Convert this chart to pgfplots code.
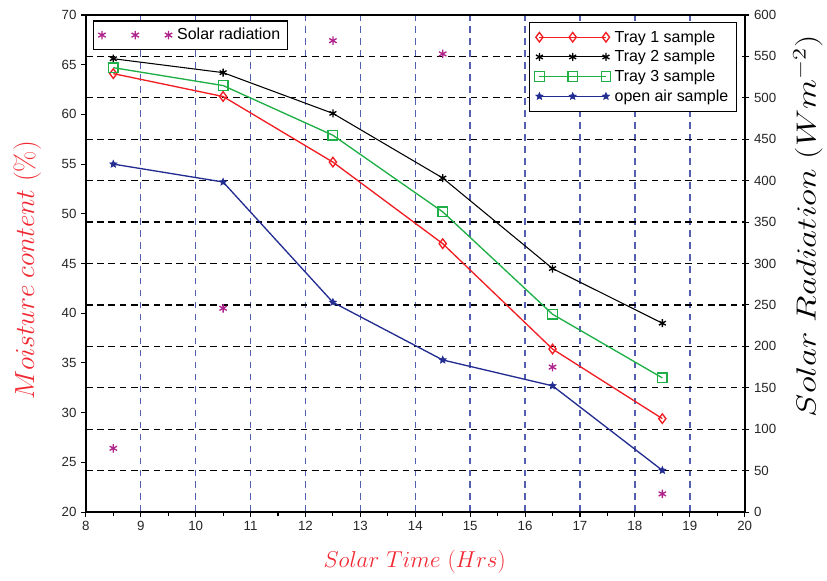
\documentclass[border=0pt]{standalone}
\usepackage[no-math]{fontspec}
\setmainfont{Liberation Sans}
\usepackage{pgfplots}
\pgfplotsset{compat=1.18}
\usetikzlibrary{plotmarks}

\definecolor{tred}{RGB}{240,30,35}
\definecolor{tgreen}{RGB}{30,175,70}
\definecolor{tnavy}{RGB}{35,45,145}
\definecolor{tmag}{RGB}{175,35,140}
\definecolor{gridblue}{RGB}{85,95,175}
\definecolor{lblred}{RGB}{240,40,50}

\pgfdeclareplotmark{fstar}{%
  \pgfpathmoveto{\pgfpointpolar{90}{\pgfplotmarksize}}%
  \pgfpathlineto{\pgfpointpolar{126}{0.45\pgfplotmarksize}}%
  \pgfpathlineto{\pgfpointpolar{162}{\pgfplotmarksize}}%
  \pgfpathlineto{\pgfpointpolar{198}{0.45\pgfplotmarksize}}%
  \pgfpathlineto{\pgfpointpolar{234}{\pgfplotmarksize}}%
  \pgfpathlineto{\pgfpointpolar{270}{0.45\pgfplotmarksize}}%
  \pgfpathlineto{\pgfpointpolar{306}{\pgfplotmarksize}}%
  \pgfpathlineto{\pgfpointpolar{342}{0.45\pgfplotmarksize}}%
  \pgfpathlineto{\pgfpointpolar{18}{\pgfplotmarksize}}%
  \pgfpathlineto{\pgfpointpolar{54}{0.45\pgfplotmarksize}}%
  \pgfpathclose\pgfusepathqfillstroke}

\begin{document}
\begin{tikzpicture}
% Right axis: grids, solar radiation
\begin{axis}[
  scale only axis, width=495pt, height=373.5pt,
  xmin=8, xmax=20, ymin=0, ymax=600,
  xtick={9,...,19}, xticklabels={}, major x tick style={draw=none},
  ytick={0,50,...,600}, ytick pos=right, tick align=outside,
  major tick length=3.5pt,
  /pgf/number format/assume math mode=true,
  yticklabel style={font=\fontsize{10}{12}\selectfont, text=black!85},
  xmajorgrids, ymajorgrids,
  x grid style={dash pattern=on 5pt off 4pt, color=gridblue, line width=1.1pt},
  y grid style={dash pattern=on 5pt off 3.5pt, color=black, line width=0.95pt},
  axis line style={line width=1.5pt},
  tick style={line width=0.8pt, black},
  ylabel={$Solar\ Radiation\ (Wm^{-2})$},
  ylabel style={at={(axis description cs:1.096,0.575)}, anchor=center, font=\fontsize{21}{23}\selectfont, xscale=1.27},
  legend style={at={(axis description cs:0.011,0.989)}, anchor=north west, draw=black, line width=0.8pt, fill=white,
    font=\fontsize{12}{14}\selectfont, inner sep=3.5pt},
  legend cell align=left,
]
\addplot[only marks, color=tmag, mark=asterisk, mark size=3.2pt, line width=1pt,
  legend image code/.code={\draw[only marks] plot coordinates {(0pt,0pt)(25pt,0pt)(50pt,0pt)}; \path (54pt,0pt);}]
  coordinates {(8.5,77) (10.5,246) (12.5,569) (14.5,553) (16.5,175) (18.5,22)};
\addlegendentry{Solar radiation}
\end{axis}
% Left axis: moisture content
\begin{axis}[
  scale only axis, width=495pt, height=373.5pt,
  xmin=8, xmax=20, ymin=20, ymax=70,
  xtick={8,...,20}, minor x tick num=1,
  ytick={20,25,...,70}, ytick pos=left, xtick pos=bottom, tick align=outside,
  major tick length=3.5pt, minor tick length=3pt,
  /pgf/number format/assume math mode=true,
  ticklabel style={font=\fontsize{10}{12}\selectfont, text=black!85},
  axis line style={line width=1.5pt},
  tick style={line width=0.8pt, black},
  xlabel={$Solar\ Time\ (Hrs)$},
  xlabel style={at={(axis description cs:0.499,-0.100)}, anchor=center, text=lblred, font=\fontsize{19}{21}\selectfont},
  ylabel={$Moisture\ content\ (\%)$},
  ylabel style={at={(axis description cs:-0.089,0.486)}, anchor=center, text=lblred, font=\fontsize{19.5}{21}\selectfont},
  legend style={at={(axis description cs:0.988,0.986)}, anchor=north east, draw=black, line width=0.8pt, fill=white,
    font=\fontsize{12}{14}\selectfont, inner sep=4pt, row sep=0.6pt},
  legend cell align=left,
  legend image code/.code={\draw plot coordinates {(0pt,0pt)(25pt,0pt)(50pt,0pt)}; \path (54pt,0pt);},
]
\addplot[color=tred, line width=1pt, mark=diamond, mark size=3.6pt, mark options={fill=white, line width=1pt}]
  coordinates {(8.5,64.1) (10.5,61.8) (12.5,55.2) (14.5,47.0) (16.5,36.4) (18.5,29.4)};
\addlegendentry{Tray 1 sample}
\addplot[color=black, line width=0.8pt, mark=asterisk, mark size=3pt, mark options={line width=1pt}]
  coordinates {(8.5,65.6) (10.5,64.2) (12.5,60.1) (14.5,53.6) (16.5,44.5) (18.5,39.0)};
\addlegendentry{Tray 2 sample}
\addplot[color=tgreen, line width=1pt, mark=square, mark size=3.6pt, mark options={fill=white, line width=1pt}]
  coordinates {(8.5,64.7) (10.5,62.9) (12.5,57.9) (14.5,50.2) (16.5,39.9) (18.5,33.5)};
\addlegendentry{Tray 3 sample}
\addplot[color=tnavy, line width=1pt, mark=fstar, mark size=2.8pt, mark options={line width=0.5pt}]
  coordinates {(8.5,55.0) (10.5,53.2) (12.5,41.1) (14.5,35.3) (16.5,32.7) (18.5,24.2)};
\addlegendentry{open air sample}
\end{axis}
\path ([xshift=-64.5pt,yshift=-51.75pt]current axis.south west) rectangle ([xshift=60.75pt,yshift=11.25pt]current axis.north east);
\end{tikzpicture}
\end{document}
